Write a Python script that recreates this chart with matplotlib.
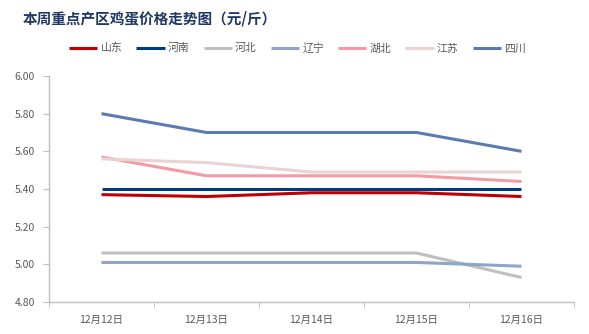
import numpy as np
import matplotlib.pyplot as plt

plt.rcParams['font.family'] = ['Noto Sans CJK SC', 'DejaVu Sans']

dates = ['12月12日', '12月13日', '12月14日', '12月15日', '12月16日']
provinces = ['山东', '河南', '河北', '辽宁', '湖北', '江苏', '四川']
shandong = [5.37, 5.36, 5.38, 5.38, 5.36]
henan = [5.40, 5.40, 5.40, 5.40, 5.40]
hebei = [5.06, 5.06, 5.06, 5.06, 4.93]
liaoning = [5.01, 5.01, 5.01, 5.01, 4.99]
hubei = [5.57, 5.47, 5.47, 5.47, 5.44]
jiangsu = [5.56, 5.54, 5.49, 5.49, 5.49]
sichuan = [5.80, 5.70, 5.70, 5.70, 5.60]
series = [shandong, henan, hebei, liaoning, hubei, jiangsu, sichuan]
colors = ['#c00000', '#003a80', '#bfbfbf', '#8ea5c8', '#f29ba5', '#ead3d3', '#5b7bb0']

fig = plt.figure(figsize=(5.89, 3.34), dpi=100, facecolor='white')
ax = fig.add_axes([0.0832, 0.0958, 0.8913, 0.6767])

x = np.arange(len(dates))
for name, vals, c in zip(provinces, series, colors):
    ax.plot(x, vals, color=c, linewidth=2.2, label=name, solid_capstyle='butt')

ax.set_xlim(-0.5, len(dates) - 0.5)
ax.set_ylim(4.80, 6.00)
ax.set_yticks(np.arange(4.80, 6.001, 0.20))
ax.set_yticklabels([f'{v:.2f}' for v in np.arange(4.80, 6.001, 0.20)])
ax.set_xticks(x)
ax.set_xticklabels(dates)
ax.set_xticks(np.arange(-0.5, len(dates), 1.0), minor=True)
ax.tick_params(axis='x', which='major', length=0, pad=9, labelsize=7.5, labelcolor='#595959')
ax.tick_params(axis='x', which='minor', length=4, color='#bfbfbf', direction='out')
ax.tick_params(axis='y', length=4, color='#bfbfbf', labelsize=7.5, labelcolor='#595959', pad=6)

for side in ['top', 'right']:
    ax.spines[side].set_visible(False)
for side in ['left', 'bottom']:
    ax.spines[side].set_color('#bfbfbf')
    ax.spines[side].set_linewidth(1.0)

fig.text(0.039, 0.945, '本周重点产区鸡蛋价格走势图（元/斤）', fontsize=10.5,
         fontweight='bold', color='#1f3864', ha='left', va='center')

fig.legend(loc='center', bbox_to_anchor=(0.505, 0.856), ncol=7, frameon=False,
           fontsize=7.8, handlelength=2.6, handletextpad=0.3, columnspacing=1.3,
           labelcolor='#595959')

fig.savefig('out.png', dpi=100, facecolor='white')
